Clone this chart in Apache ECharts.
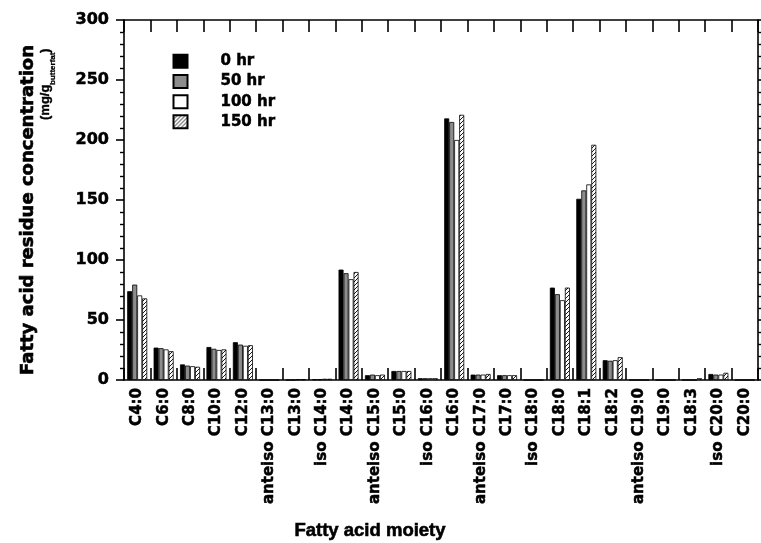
<!DOCTYPE html>
<html>
<head>
<meta charset="utf-8">
<script src="https://cdn.jsdelivr.net/npm/echarts@6/dist/echarts.min.js"></script>
<style>
html,body{margin:0;padding:0;background:#fff;}
#chart{width:761px;height:543px;}
</style>
</head>
<body>
<div id="chart"></div>
<script>
const categories = ['C4:0','C6:0','C8:0','C10:0','C12:0','anteiso C13:0','C13:0','iso C14:0','C14:0','anteiso C15:0','C15:0','iso C16:0','C16:0','anteiso C17:0','C17:0','iso C18:0','C18:0','C18:1','C18:2','anteiso C19:0','C19:0','C18:3','iso C20:0','C20:0'];
const seriesNames = ['0 hr','50 hr','100 hr','150 hr'];
const hr0   = [74, 27, 13, 27.5, 31.5, 0, 0, 0.5, 92, 4, 7.5, 1.5, 218, 4.5, 4, 0, 77, 151, 16.5, 0, 0, 0, 5, 0];
const hr50  = [79.5, 26.5, 12, 26, 29.5, 0, 0, 0.5, 89, 4.5, 7.5, 1.5, 215, 4.5, 4, 0, 71.5, 158, 16, 0, 0, 0, 4.5, 0];
const hr100 = [70.5, 25.5, 11.5, 25, 28.5, 0, 0.5, 1, 84, 4, 7.5, 1.5, 200, 4.5, 4, 0, 66.5, 163, 16.5, 0, 0, 0, 4.5, 0];
const hr150 = [68, 24, 11, 25.5, 29, 0, 0.5, 1, 90, 4.5, 7.5, 1.5, 221, 5, 4, 0, 77, 196, 19, 0, 0, 1.5, 6, 0];
const yTicks = {min: 0, max: 300, interval: 50};

// hatch pattern
const pc = document.createElement('canvas');
pc.width = 4; pc.height = 4;
const g = pc.getContext('2d');
g.fillStyle = '#fff'; g.fillRect(0,0,4,4);
g.strokeStyle = '#000'; g.lineWidth = 0.9;
g.beginPath();
g.moveTo(0,4); g.lineTo(4,0);
g.moveTo(-1,1); g.lineTo(1,-1);
g.moveTo(3,5); g.lineTo(5,3);
g.stroke();

const FONT = 'DejaVu Sans';
const BOLDER = {textBorderColor: '#000', textBorderWidth: 0.5};
const chart = echarts.init(document.getElementById('chart'), null, {renderer:'canvas'});

const fills = ['#000000', '#8c8c8c', '#ffffff', {image: pc, repeat: 'repeat'}];
const datas = [hr0, hr50, hr100, hr150];

const series = datas.map((d, i) => ({
  name: seriesNames[i],
  type: 'bar',
  data: d,
  barWidth: 5,
  barGap: '0%',
  xAxisIndex: 0,
  yAxisIndex: 0,
  itemStyle: {color: fills[i], borderColor: '#000', borderWidth: 0.8},
  emphasis: {disabled: true},
  animation: false
}));

const axisLineStyle = {color: '#000', width: 1.6};

chart.setOption({
  animation: false,
  backgroundColor: '#fff',
  grid: {left: 124, right: 3, top: 20, bottom: 163, containLabel: false},
  legend: {
    data: seriesNames,
    orient: 'vertical',
    left: 172.5,
    top: 53.5,
    padding: 0,
    itemWidth: 14,
    itemHeight: 13,
    itemGap: 4.7,
    icon: 'rect',
    selectedMode: false,
    textStyle: Object.assign({fontFamily: FONT, fontWeight: 'bold', fontSize: 15, color: '#000', padding: [0,0,0,28], lineHeight: 13, height: 13}, BOLDER)
  },
  xAxis: [
    {
      type: 'category', data: categories, position: 'bottom',
      boundaryGap: true,
      axisLine: {onZero: false, lineStyle: axisLineStyle},
      axisTick: {show: true, inside: true, length: 12, interval: 0, lineStyle: {color: '#000', width: 1.6}},
      axisLabel: Object.assign({interval: 0, rotate: 90, margin: 8, fontFamily: FONT, fontWeight: 'bold', fontSize: 15, color: '#000'}, BOLDER),
      splitLine: {show: false}
    },
    {
      type: 'category', data: categories, position: 'top',
      boundaryGap: true,
      axisLine: {onZero: false, lineStyle: axisLineStyle},
      axisTick: {show: true, inside: true, length: 12, interval: 0, lineStyle: {color: '#000', width: 1.6}},
      axisLabel: {show: false},
      splitLine: {show: false}
    }
  ],
  yAxis: [
    {
      type: 'value', position: 'left', min: yTicks.min, max: yTicks.max, interval: yTicks.interval,
      axisLine: {show: true, onZero: false, lineStyle: axisLineStyle},
      axisTick: {show: true, inside: false, length: 8, lineStyle: {color: '#000', width: 1.6}},
      minorTick: {show: true, splitNumber: 5, length: 4, lineStyle: {color: '#000', width: 1.4}},
      axisLabel: Object.assign({margin: 15, fontFamily: FONT, fontWeight: 'bold', fontSize: 16, color: '#000'}, BOLDER),
      splitLine: {show: false}
    },
    {
      type: 'value', position: 'right', min: yTicks.min, max: yTicks.max, interval: yTicks.interval,
      axisLine: {show: true, onZero: false, lineStyle: axisLineStyle},
      axisTick: {show: true, inside: false, length: 8, lineStyle: {color: '#000', width: 1.6}},
      minorTick: {show: true, splitNumber: 5, length: 4, lineStyle: {color: '#000', width: 1.4}},
      axisLabel: {show: false},
      splitLine: {show: false}
    }
  ],
  graphic: [
    {
      type: 'text', x: 370, y: 531,
      style: {text: 'Fatty acid moiety', fontFamily: 'Liberation Sans', fontWeight: 'bold', fontSize: 18.5, fill: '#000', textAlign: 'center', textVerticalAlign: 'middle', stroke: '#000', lineWidth: 0.6}
    },
    {
      type: 'text', x: 28, y: 210, rotation: Math.PI / 2,
      style: {text: 'Fatty acid residue concentration', fontFamily: FONT, fontWeight: 'bold', fontSize: 18, fill: '#000', textAlign: 'center', textVerticalAlign: 'middle', stroke: '#000', lineWidth: 0.6}
    },
    {
      type: 'text', x: 45, y: 120, rotation: Math.PI / 2,
      style: {text: '(mg/g', fontFamily: 'Liberation Sans', fontWeight: 'bold', fontSize: 13, fill: '#000', textAlign: 'left', textVerticalAlign: 'middle', stroke: '#000', lineWidth: 0.4}
    },
    {
      type: 'text', x: 52.5, y: 85, rotation: Math.PI / 2,
      style: {text: 'butterfat', fontFamily: 'Liberation Sans', fontWeight: 'bold', fontSize: 8, fill: '#000', textAlign: 'left', textVerticalAlign: 'middle', stroke: '#000', lineWidth: 0.3}
    },
    {
      type: 'text', x: 45, y: 53, rotation: Math.PI / 2,
      style: {text: ')', fontFamily: 'Liberation Sans', fontWeight: 'bold', fontSize: 13, fill: '#000', textAlign: 'left', textVerticalAlign: 'middle', stroke: '#000', lineWidth: 0.4}
    }
  ],
  series: series
});
</script>
</body>
</html>
